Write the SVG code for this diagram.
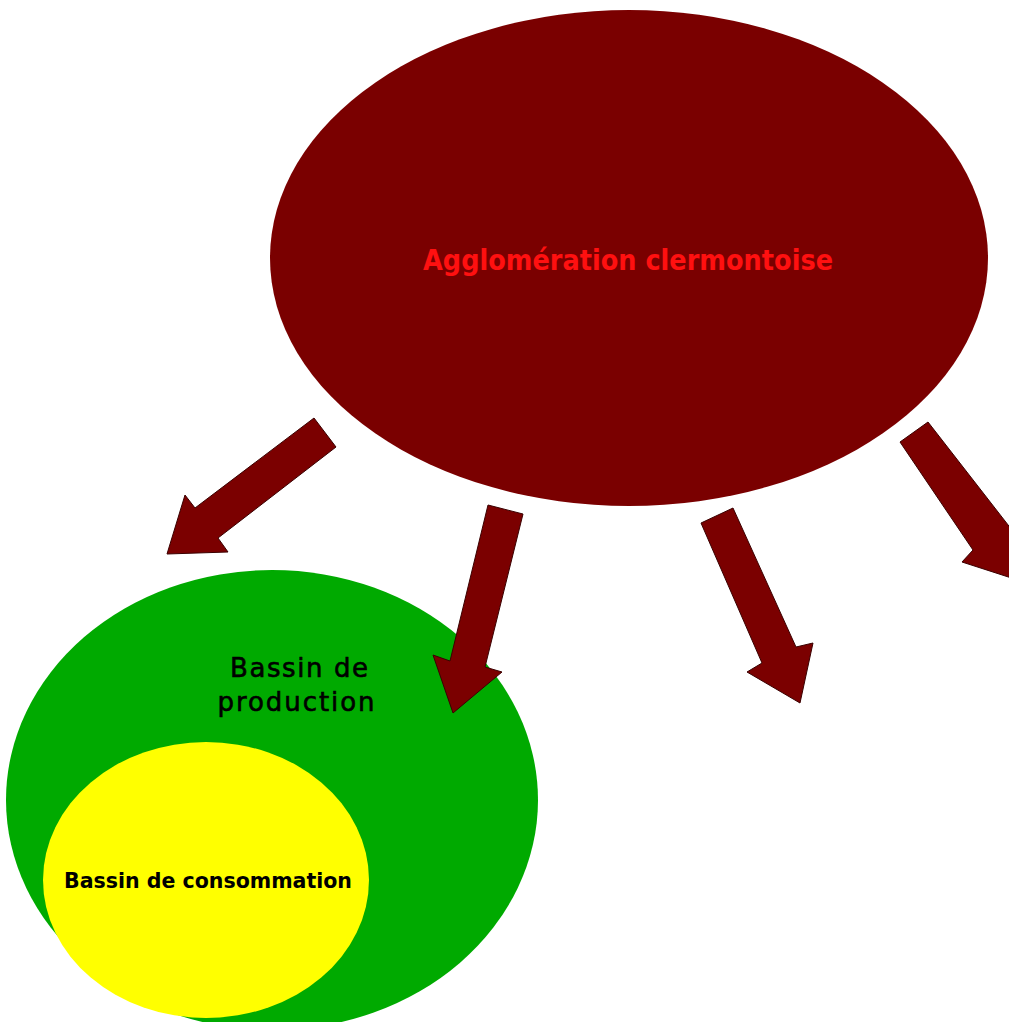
<svg xmlns="http://www.w3.org/2000/svg" width="1009" height="1022" viewBox="0 0 1009 1022">
<style>
.arrow{fill:#7b0000;stroke:#3a0000;stroke-width:1;stroke-linejoin:miter}
.lbl{font-family:"DejaVu Sans","Liberation Sans",sans-serif;text-anchor:middle}
</style>
<rect width="1009" height="1022" fill="#ffffff"/>
<g id="agglomeration">
<ellipse cx="629" cy="258" rx="359" ry="248" fill="#7a0000"/>
<text class="lbl" x="628" y="270" font-size="28" font-weight="bold" fill="#ff1010" textLength="410" lengthAdjust="spacingAndGlyphs">Agglomération clermontoise</text>
</g>
<g id="bassin-production">
<ellipse cx="272" cy="800" rx="266" ry="230" fill="#00aa00"/>
<text class="lbl" x="299" y="677" font-size="26" fill="#000000" stroke="#000000" stroke-width="0.6" textLength="138" lengthAdjust="spacing">Bassin de</text>
<text class="lbl" x="296" y="711" font-size="26" fill="#000000" stroke="#000000" stroke-width="0.6" textLength="157" lengthAdjust="spacing">production</text>
</g>
<g id="bassin-consommation">
<ellipse cx="206" cy="880" rx="163" ry="138" fill="#ffff00"/>
<text class="lbl" x="208" y="888" font-family="Liberation Sans" font-size="22" font-weight="bold" fill="#000000" textLength="288" lengthAdjust="spacingAndGlyphs">Bassin de consommation</text>
</g>
<g id="connectors">
<polygon class="arrow" points="314,418 336,447 218,538 228,552 167,554 185,495 195,508"/>
<polygon class="arrow" points="488,505 523,514 485,667 502,672 453,713 433,655 450,661"/>
<polygon class="arrow" points="701,523 733,508 796,647 813,643 800,703 747,672 762,663"/>
<polygon class="arrow" points="900,442 928,422 1012,530 1030,522 1030,584 962,562 973,550"/>
</g>
</svg>
